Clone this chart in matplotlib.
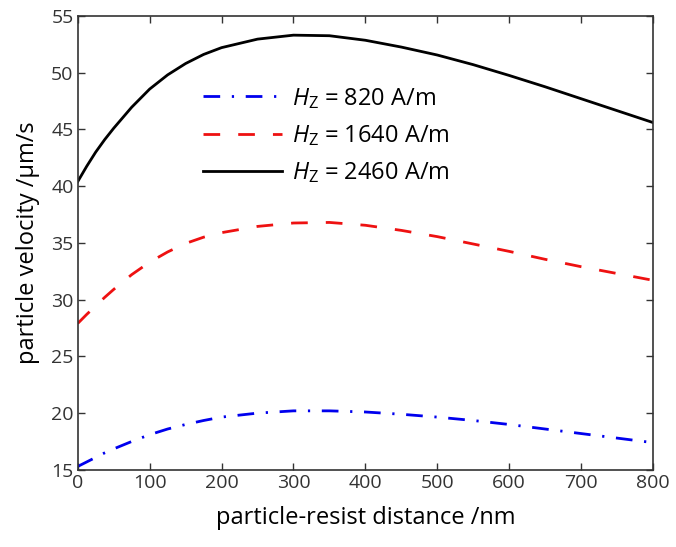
import matplotlib
matplotlib.use("Agg")
import matplotlib.pyplot as plt
import numpy as np

plt.rcParams['font.family'] = ['Open Sans', 'DejaVu Sans']
plt.rcParams['mathtext.fontset'] = 'custom'
plt.rcParams['mathtext.rm'] = 'Open Sans'
plt.rcParams['mathtext.it'] = 'Open Sans:italic'

# distance (nm) and velocities (um/s)
distance = [0, 12.5, 25, 37.5, 50, 75, 100, 125, 150, 175, 200, 250, 300, 350,
            400, 450, 500, 550, 600, 650, 700, 750, 800]
v_820 = [15.3, 15.7, 16.1, 16.5, 16.85, 17.5, 18.1, 18.6, 19.0, 19.35, 19.65,
         20.0, 20.2, 20.2, 20.1, 19.9, 19.65, 19.35, 19.0, 18.6, 18.2, 17.8, 17.4]
v_1640 = [27.9, 28.7, 29.45, 30.2, 30.9, 32.2, 33.3, 34.2, 34.95, 35.5, 35.9,
          36.45, 36.75, 36.8, 36.55, 36.1, 35.55, 34.9, 34.25, 33.55, 32.9,
          32.3, 31.7]
v_2460 = [40.4, 41.75, 43.0, 44.1, 45.1, 46.95, 48.55, 49.8, 50.8, 51.6, 52.2,
          52.95, 53.3, 53.25, 52.85, 52.25, 51.55, 50.7, 49.75, 48.75, 47.7,
          46.65, 45.6]
labels = [r'$H_{\mathrm{Z}}$ = 820 A/m', r'$H_{\mathrm{Z}}$ = 1640 A/m',
          r'$H_{\mathrm{Z}}$ = 2460 A/m']

fig = plt.figure(figsize=(6.76, 5.47), dpi=100)
ax = fig.add_axes([0.115, 0.141, 0.851, 0.830])

ax.plot(distance, v_820, color='#0000ee', lw=2, dashes=(6, 4.2, 0.8, 4.2),
        solid_joinstyle='round', label=labels[0])
ax.plot(distance, v_1640, color='#ee1111', lw=2, dashes=(6, 6.5),
        solid_joinstyle='round', label=labels[1])
ax.plot(distance, v_2460, color='black', lw=2, solid_joinstyle='round',
        label=labels[2])

ax.set_xlim(0, 800)
ax.set_ylim(15, 55)
ax.set_xticks(np.arange(0, 801, 100))
ax.set_yticks(np.arange(15, 56, 5))
ax.tick_params(direction='in', top=True, right=True, length=5, width=1,
               labelsize=14, colors='#333333', labelcolor='#333333', pad=3)
for s in ax.spines.values():
    s.set_color('#333333')
    s.set_linewidth(1.2)

ax.set_xlabel('particle-resist distance /nm', fontsize=17, labelpad=10)
ax.set_ylabel('particle velocity /\u00b5m/s', fontsize=17, labelpad=8)

ax.legend(loc='upper left', bbox_to_anchor=(0.217, 0.846), frameon=False,
          fontsize=17, handlelength=3.35, labelspacing=0.52, handletextpad=0.42,
          borderpad=0, borderaxespad=0)

fig.savefig('out.png', dpi=100)
